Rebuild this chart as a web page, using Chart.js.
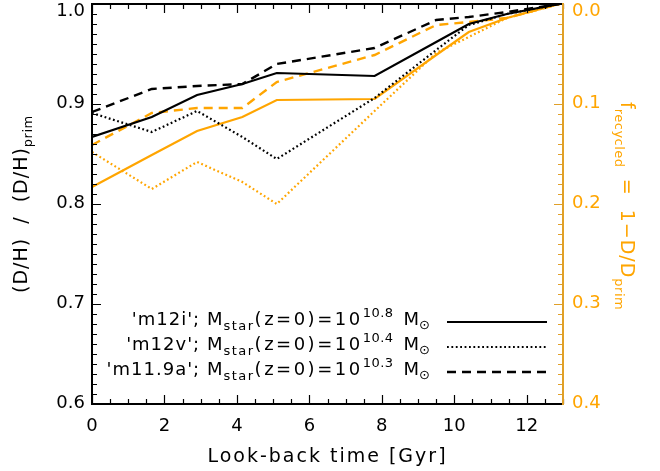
<!DOCTYPE html>
<html><head><meta charset="utf-8">
<script src="https://cdn.jsdelivr.net/npm/chart.js@4.4.1/dist/chart.umd.min.js"></script>
<style>html,body{margin:0;padding:0;background:#fff}</style>
</head><body>
<canvas id="c" width="660" height="471" style="width:660px;height:471px;display:block"></canvas>
<script>
// ---- data ----
const lookbackTime = [0, 1.65, 2.9, 4.15, 5.1, 7.8, 9.5, 10.4, 11.45, 12.9];
// (D/H)/(D/H)_prim, left axis
const dhM12i  = [0.867, 0.887, 0.909, 0.920, 0.931, 0.928, 0.962, 0.980, 0.990, 1.000];
const dhM12v  = [0.891, 0.872, 0.893, 0.867, 0.845, 0.906, 0.954, 0.979, 0.990, 1.000];
const dhM119a = [0.892, 0.915, 0.918, 0.920, 0.940, 0.956, 0.984, 0.987, 0.992, 1.000];
// f_recycled, right axis (reversed)
const fRecM12i  = [0.183, 0.151, 0.127, 0.113, 0.096, 0.095, 0.051, 0.028, 0.014, 0.000];
const fRecM12v  = [0.148, 0.185, 0.158, 0.178, 0.200, 0.107, 0.049, 0.033, 0.014, 0.000];
const fRecM119a = [0.141, 0.109, 0.104, 0.104, 0.078, 0.051, 0.021, 0.018, 0.014, 0.000];
// ticks
const xTickValues  = [0, 2, 4, 6, 8, 10, 12];
const yTickValues  = [0.6, 0.7, 0.8, 0.9, 1.0];
const y2TickValues = [0.0, 0.1, 0.2, 0.3, 0.4];
const xMinorStep = 0.5, yMinorStep = 0.01;
// legend
const simNames = ["'m12i'", "'m12v'", "'m11.9a'"];
const massExps = ["10.8", "10.4", "10.3"];

const ORANGE = '#FFA500';
const AXIS_ORANGE = '#E0A028';
const FONT = '"DejaVu Sans"';

const pts = (ys) => lookbackTime.map((t, i) => ({x: t, y: ys[i]}));
const DASH = [9, 6], DOT = [1.8, 2.6];

function drawRich(ctx, segs, x, y, align) {
  let w = 0;
  segs.forEach(s => {
    ctx.font = s.size + 'px ' + FONT;
    ctx.letterSpacing = (s.ls || 0) + 'px';
    s.w = ctx.measureText(s.t).width;
    w += s.w + (s.gap || 0);
  });
  let cx = align === 'right' ? x - w : align === 'center' ? x - w / 2 : x;
  ctx.textAlign = 'left';
  ctx.textBaseline = 'alphabetic';
  segs.forEach(s => {
    ctx.font = s.size + 'px ' + FONT;
    ctx.letterSpacing = (s.ls || 0) + 'px';
    ctx.fillText(s.t, cx, y + (s.dy || 0));
    cx += s.w + (s.gap || 0);
  });
  ctx.letterSpacing = '0px';
}

const decor = {
  id: 'decor',
  beforeDraw(chart) {
    // shift the topmost tick labels down so they stay inside the picture
    ['y', 'y2'].forEach(id => {
      const sc = chart.scales[id];
      const items = sc.getLabelItems(chart.chartArea);
      items.forEach(it => {
        if (it.label === '1.0' || it.label === '0.0') it.options.translation[1] += 7;
        else it.options.translation[1] -= 1;
      });
    });
  },
  afterDraw(chart) {
    const {ctx, chartArea: a, scales: {x, y, y2}} = chart;
    ctx.save();
    // ticks
    ctx.lineWidth = 1.2;
    ctx.strokeStyle = '#000';
    ctx.beginPath();
    const nx = Math.round((x.max - x.min) / xMinorStep);
    for (let i = 0; i <= nx; i++) {
      const v = x.min + i * xMinorStep;
      const px = Math.round(x.getPixelForValue(v)) + 0.5;
      const L = (Math.abs(v / 2 - Math.round(v / 2)) < 1e-6) ? 9 : 5;
      ctx.moveTo(px, a.bottom); ctx.lineTo(px, a.bottom - L);
      ctx.moveTo(px, a.top); ctx.lineTo(px, a.top + L);
    }
    const ny = Math.round((y.max - y.min) / yMinorStep);
    for (let i = 0; i <= ny; i++) {
      const v = y.min + i * yMinorStep;
      const py = Math.round(y.getPixelForValue(v)) + 0.5;
      const L = (i % 10 === 0) ? 9 : 5;
      ctx.moveTo(a.left, py); ctx.lineTo(a.left + L, py);
    }
    ctx.stroke();
    ctx.strokeStyle = AXIS_ORANGE;
    ctx.beginPath();
    const ny2 = Math.round((y2.max - y2.min) / yMinorStep);
    for (let i = 0; i <= ny2; i++) {
      const v = y2.min + i * yMinorStep;
      const py = Math.round(y2.getPixelForValue(v)) + 0.5;
      const L = (i % 10 === 0) ? 9 : 5;
      ctx.moveTo(a.right, py); ctx.lineTo(a.right - L, py);
    }
    ctx.stroke();
    // frame
    ctx.lineWidth = 2;
    ctx.strokeStyle = '#000';
    ctx.beginPath();
    ctx.moveTo(a.right, a.top); ctx.lineTo(a.left, a.top);
    ctx.lineTo(a.left, a.bottom); ctx.lineTo(a.right, a.bottom);
    ctx.stroke();
    ctx.strokeStyle = AXIS_ORANGE;
    ctx.beginPath();
    ctx.moveTo(a.right, a.top - 1); ctx.lineTo(a.right, a.bottom + 1);
    ctx.stroke();

    // x title
    ctx.fillStyle = '#000';
    drawRich(ctx, [{t: 'Look-back time [Gyr]', size: 19, ls: 2}], (a.left + a.right) / 2, 462, 'center');

    // left title (rotated)
    ctx.save();
    ctx.translate(27, 293);
    ctx.rotate(-Math.PI / 2);
    drawRich(ctx, [
      {t: '(D/H)  /  (D/H)', size: 19, ls: 1},
      {t: 'prim', size: 13, ls: 0.5, dy: 5}
    ], 0, 0, 'left');
    ctx.restore();

    // right title (rotated)
    ctx.save();
    ctx.fillStyle = ORANGE;
    ctx.translate(621, 102);
    ctx.rotate(Math.PI / 2);
    drawRich(ctx, [
      {t: 'f', size: 19},
      {t: 'recycled', size: 13, ls: 0.5, dy: 6, gap: 4},
      {t: ' =  1\u2212D/D', size: 19, ls: 1},
      {t: 'prim', size: 13, ls: 0.5, dy: 6}
    ], 0, 0, 'left');
    ctx.restore();

    // legend
    const ds = chart.data.datasets;
    const rowsBase = [325, 350, 375];
    for (let r = 0; r < 3; r++) {
      const b = rowsBase[r];
      ctx.fillStyle = '#000';
      drawRich(ctx, [
        {t: simNames[r] + '; M', size: 18, ls: 1},
        {t: 'star', size: 13, ls: 1.5, dy: 5},
        {t: '(z=0)=10', size: 18, ls: 2.5},
        {t: massExps[r], size: 13, ls: 0.5, dy: -8, gap: 10},
        {t: 'M', size: 18},
        {t: '\u2299', size: 13, dy: 4}
      ], 430, b, 'right');
      const d = ds[r];
      ctx.strokeStyle = d.borderColor;
      ctx.lineWidth = d.borderWidth;
      ctx.setLineDash(d.borderDash || []);
      ctx.beginPath();
      ctx.moveTo(447, b - 3); ctx.lineTo(547, b - 3);
      ctx.stroke();
      ctx.setLineDash([]);
    }
    ctx.restore();
  }
};

const tickFont = {family: FONT, size: 18};
const noPadV = s => { s.paddingTop = 0; s.paddingBottom = 0; };

new Chart(document.getElementById('c'), {
  type: 'line',
  data: {
    datasets: [
      {label: simNames[0], data: pts(dhM12i), yAxisID: 'y', borderColor: '#000', borderWidth: 2.2},
      {label: simNames[1], data: pts(dhM12v), yAxisID: 'y', borderColor: '#000', borderWidth: 2.2, borderDash: DOT},
      {label: simNames[2], data: pts(dhM119a), yAxisID: 'y', borderColor: '#000', borderWidth: 2.4, borderDash: DASH},
      {label: simNames[0] + ' f', data: pts(fRecM12i), yAxisID: 'y2', borderColor: ORANGE, borderWidth: 2.2},
      {label: simNames[1] + ' f', data: pts(fRecM12v), yAxisID: 'y2', borderColor: ORANGE, borderWidth: 2.2, borderDash: DOT},
      {label: simNames[2] + ' f', data: pts(fRecM119a), yAxisID: 'y2', borderColor: ORANGE, borderWidth: 2.4, borderDash: DASH}
    ]
  },
  options: {
    responsive: false,
    animation: false,
    devicePixelRatio: 1,
    layout: {padding: {top: 4, left: 0, right: 0, bottom: 0}},
    elements: {point: {radius: 0}, line: {tension: 0, borderCapStyle: 'butt', fill: false}},
    plugins: {legend: {display: false}, tooltip: {enabled: false}},
    scales: {
      x: {
        type: 'linear', min: 0, max: 13,
        grid: {display: false, drawTicks: false}, border: {display: false},
        afterBuildTicks: s => { s.ticks = xTickValues.map(v => ({value: v})); },
        ticks: {font: tickFont, color: '#000', padding: 12, maxRotation: 0, callback: v => String(v)},
        afterFit: s => { s.height = 67; s.paddingLeft = 0; s.paddingRight = 0; }
      },
      y: {
        type: 'linear', position: 'left', min: 0.6, max: 1.0,
        grid: {display: false, drawTicks: false}, border: {display: false},
        afterBuildTicks: s => { s.ticks = yTickValues.map(v => ({value: v})); },
        ticks: {font: tickFont, color: '#000', padding: 7, callback: v => v.toFixed(1)},
        afterFit: s => { s.width = 92; noPadV(s); }
      },
      y2: {
        type: 'linear', position: 'right', min: 0, max: 0.4, reverse: true,
        grid: {display: false, drawTicks: false}, border: {display: false},
        afterBuildTicks: s => { s.ticks = y2TickValues.map(v => ({value: v})); },
        ticks: {font: tickFont, color: ORANGE, padding: 9, callback: v => v.toFixed(1)},
        afterFit: s => { s.width = 97; noPadV(s); }
      }
    }
  },
  plugins: [decor]
});
</script>
</body></html>
